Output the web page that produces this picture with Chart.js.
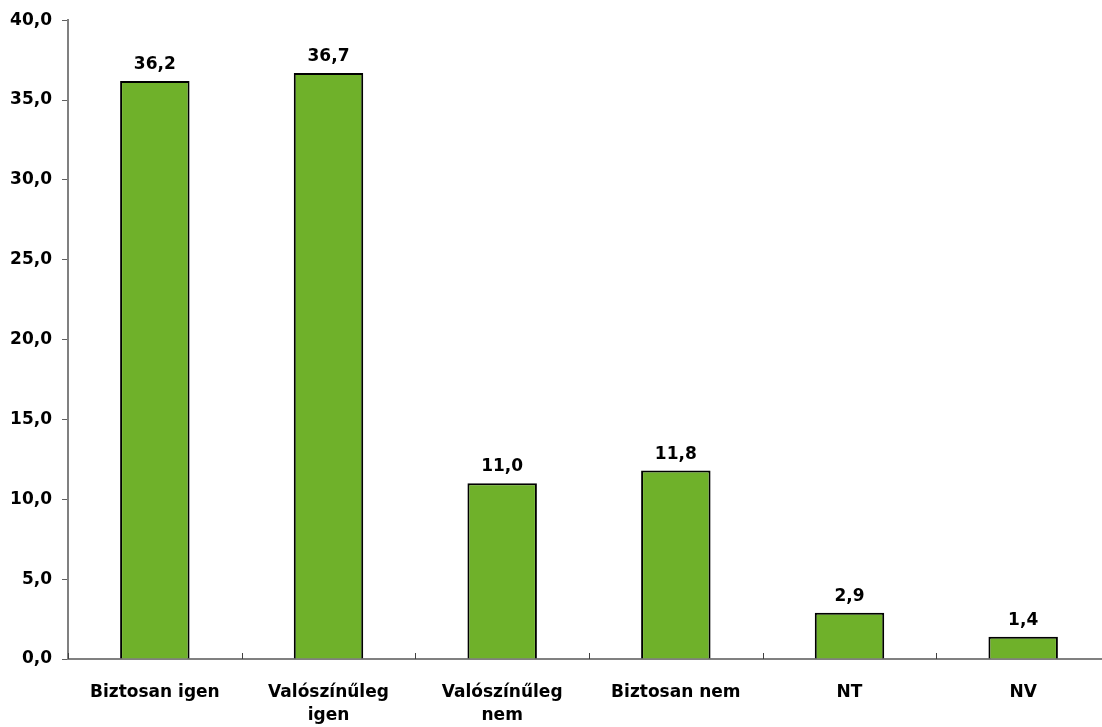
<!DOCTYPE html>
<html>
<head>
<meta charset="utf-8">
<script src="https://cdn.jsdelivr.net/npm/chart.js@4/dist/chart.umd.min.js"></script>
<style>
  html, body { margin: 0; padding: 0; background: #fff; overflow: hidden; }
  #wrap { width: 1110px; height: 727px; }
</style>
</head>
<body>
<div id="wrap"><canvas id="valaszChart" width="1110" height="727"></canvas></div>
<script>
const kategoriak = [['Biztosan igen'], ['Valószínűleg', 'igen'], ['Valószínűleg', 'nem'], ['Biztosan nem'], ['NT'], ['NV']];
const ertekek = [36.2, 36.7, 11.0, 11.8, 2.9, 1.4];
const yTicks = [0, 5, 10, 15, 20, 25, 30, 35, 40];

const betu = '"DejaVu Sans", "Liberation Sans", Arial, sans-serif';
const fmt = v => v.toFixed(1).replace('.', ',');

// ertek cimkek a oszlopok folott
const cimkePlugin = {
  id: 'cimkek',
  afterDatasetsDraw(chart) {
    const ctx = chart.ctx;
    const meta = chart.getDatasetMeta(0);
    ctx.save();
    ctx.font = 'bold 17px ' + betu;
    ctx.fillStyle = '#000';
    ctx.textAlign = 'center';
    ctx.textBaseline = 'alphabetic';
    meta.data.forEach((bar, i) => {
      ctx.fillText(fmt(ertekek[i]), bar.x, bar.y - 12);
    });
    ctx.restore();
  }
};

// belso osztasjelek az x tengelyen, kategoriak kozott
const xJelekPlugin = {
  id: 'xjelek',
  afterDraw(chart) {
    const sc = chart.scales.x;
    const ctx = chart.ctx;
    const n = kategoriak.length;
    const w = (sc.right - sc.left) / n;
    ctx.save();
    ctx.strokeStyle = '#404040';
    ctx.lineWidth = 1;
    for (let i = 0; i <= n; i++) {
      const x = Math.round(sc.left + i * w) + 0.5;
      ctx.beginPath();
      ctx.moveTo(x, sc.top);
      ctx.lineTo(x, sc.top - 6);
      ctx.stroke();
    }
    ctx.restore();
  }
};

const ctx = document.getElementById('valaszChart').getContext('2d');
const chart = new Chart(ctx, {
  type: 'bar',
  data: {
    labels: kategoriak,
    datasets: [{
      data: ertekek,
      backgroundColor: '#6FB12A',
      borderColor: '#000',
      borderWidth: 2,
      categoryPercentage: 1,
      barPercentage: 0.4
    }]
  },
  options: {
    responsive: false,
    maintainAspectRatio: false,
    animation: false,
    layout: { padding: { top: 20, right: 0, bottom: 0, left: 0 } },
    plugins: { legend: { display: false }, tooltip: { enabled: false } },
    scales: {
      x: {
        grid: { display: false },
        border: { color: '#808080', width: 2 },
        ticks: {
          color: '#000',
          padding: 14,
          font: { family: betu, size: 17, weight: 'bold', lineHeight: 1.35 },
          maxRotation: 0,
          autoSkip: false
        },
        afterFit(scale) { scale.height = 68; }
      },
      y: {
        min: 0,
        max: 40,
        afterBuildTicks(scale) { scale.ticks = yTicks.map(v => ({ value: v })); },
        grid: { drawOnChartArea: false, color: '#606060', tickLength: 6, lineWidth: 1 },
        border: { color: '#808080', width: 2 },
        ticks: {
          color: '#000',
          padding: 10,
          font: { family: betu, size: 17, weight: 'bold' },
          callback: v => fmt(v)
        },
        afterFit(scale) { scale.width = 68; }
      }
    }
  },
  plugins: [cimkePlugin, xJelekPlugin]
});
</script>
</body>
</html>
